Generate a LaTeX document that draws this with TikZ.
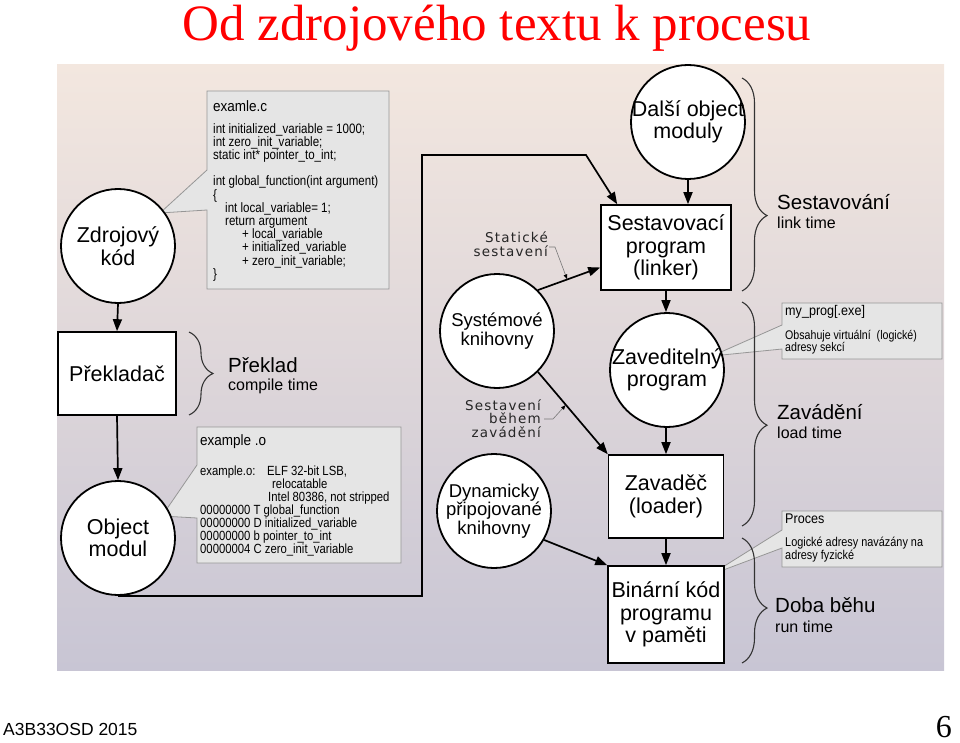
\documentclass[tikz,border=0pt]{standalone}
\usepackage{fontspec}
\setmainfont{Liberation Sans}
\newfontfamily\titlefont{Liberation Serif}
\newfontfamily\dvfont[LetterSpace=9]{DejaVu Sans}
\newfontfamily\narrowfont[FakeStretch=0.85]{Liberation Sans}
\newfontfamily\semifont[FakeStretch=0.9]{Liberation Sans}
\usetikzlibrary{arrows.meta,decorations.pathreplacing,calc}
\definecolor{titlered}{RGB}{255,0,0}
\definecolor{bgtop}{RGB}{243,231,223}
\definecolor{bgmid}{RGB}{221,191,197}
\definecolor{bgbot}{RGB}{200,197,212}
\definecolor{callfill}{RGB}{229,229,229}
\definecolor{callline}{RGB}{150,150,150}
\definecolor{leadgray}{RGB}{120,120,120}
\newcommand{\fsz}[2]{\fontsize{#1}{#2}\selectfont}
\begin{document}
\begin{tikzpicture}[x=1pt,y=-1pt,
  arr/.style={line width=1.7pt,-{Triangle[length=12pt,width=9pt]}},
  circ/.style={circle,draw,line width=1.8pt,fill=white,minimum size=114pt,inner sep=0pt},
  ctext/.style={align=center,font=\fsz{21.5}{22.5},inner sep=0pt},
  stext/.style={align=center,font=\fsz{18.5}{18.5},inner sep=0pt},
  boxn/.style={draw,line width=1.6pt,fill=white,inner sep=0pt,align=center,font=\fsz{21.5}{22.5}},
  callout/.style={fill=callfill,draw=callline,line width=0.8pt},
  curly/.style 2 args={decorate,decoration={brace,amplitude=#1,aspect=#2},line width=1.1pt,draw=black!80},
  bigl/.style={anchor=west,inner sep=0pt,font=\fsz{20.5}{22}},
  smalll/.style={anchor=west,inner sep=0pt,font=\fsz{16}{18}},
  midl/.style={align=right,anchor=east,inner sep=0pt,font=\dvfont\fsz{13.5}{13.5},text=black!85},
  leader/.style={draw=leadgray,line width=0.6pt,-{Latex[length=5pt,width=4pt,color=black]}}
]
\useasboundingbox (0,0) rectangle (960,743);
% title
\node[anchor=base,text=titlered,font=\titlefont\fsz{51}{55},inner sep=0pt] (title) at (497,41) {Od zdrojového textu k procesu};
% background
\shade[top color=bgtop,middle color=bgmid,bottom color=bgbot] (57,65) rectangle (944,670);

% callouts
\draw[callout] (207,91) -- (389,91) -- (389,289) -- (207,289) -- (207,210) -- (160,213) -- (207,170) -- cycle;
\node[anchor=west,inner sep=0pt,font=\semifont\fsz{15}{16}] (codeH) at (213,106) {examle.c};
\node[anchor=north west,inner sep=0pt,align=left,font=\narrowfont\fsz{13.6}{13.2}] (codeB) at (213,123) {int initialized\_variable = 1000;\\
int zero\_init\_variable;\\
static int* pointer\_to\_int;\\[13.2pt]
int global\_function(int argument)\\
\{\\
\hspace*{12pt}int local\_variable= 1;\\
\hspace*{12pt}return argument\\
\hspace*{29pt}+ local\_variable\\
\hspace*{29pt}+ initialized\_variable\\
\hspace*{29pt}+ zero\_init\_variable;\\
\}};

\draw[callout] (197,427) -- (401,427) -- (401,563) -- (197,563) -- (197,518) -- (162,516) -- (197,465) -- cycle;
\node[anchor=west,inner sep=0pt,font=\semifont\fsz{15}{16}] (objH) at (200,442) {example .o};
\node[anchor=north west,inner sep=0pt,align=left,font=\narrowfont\fsz{13.3}{13}] (objB) at (200,466) {\makebox[67pt][l]{example.o:}ELF 32-bit LSB,\\
\hspace*{72pt}relocatable\\
\hspace*{68pt}Intel 80386, not stripped\\
00000000 T global\_function\\
00000000 D initialized\_variable\\
00000000 b pointer\_to\_int\\
00000004 C zero\_init\_variable};

\draw[callout] (782,303) -- (942,303) -- (942,359) -- (782,359) -- (782,349) -- (712,356) -- (782,325) -- cycle;
\node[anchor=west,inner sep=0pt,font=\semifont\fsz{14}{15}] (progH) at (785,312) {my\_prog[.exe]};
\node[anchor=north west,inner sep=0pt,align=left,font=\narrowfont\fsz{12.5}{12}] (progB) at (785,330) {Obsahuje virtuální\ \ (logické)\\adresy sekcí};

\draw[callout] (782,511) -- (942,511) -- (942,567) -- (782,567) -- (782,548) -- (710,575) -- (782,530) -- cycle;
\node[anchor=west,inner sep=0pt,font=\semifont\fsz{14}{15}] (procH) at (785,519) {Proces};
\node[anchor=north west,inner sep=0pt,align=left,font=\narrowfont\fsz{12.8}{12.5}] (procB) at (785,537) {Logické adresy navázány na\\adresy fyzické};

% nodes
\node[circ] (src) at (118,246) {};
\node[ctext] (srcT) at (src) {Zdrojový\\kód};
\node[boxn,minimum width=118pt,minimum height=83pt] (comp) at (117,373.5) {Překladač};
\node[circ] (obj) at (118,538) {};
\node[ctext] (objT) at (obj) {Object\\modul};

\node[circ] (more) at (688,122) {};
\node[ctext] (moreT) at (more) {Další object\\moduly};
\node[boxn,minimum width=130pt,minimum height=85pt] (link) at (666,247.5) {Sestavovací\\program\\(linker)};
\node[circ] (sys) at (497,331) {};
\node[stext] (sysT) at (sys) {Systémové\\knihovny};
\node[circ] (exe) at (667,370) {};
\node[ctext] (exeT) at (exe) {Zaveditelný\\program};
\node[boxn,minimum width=115pt,minimum height=83pt] (load) at (666,496.5) {Zavaděč\\(loader)};
\node[circ] (dyn) at (494,511) {};
\node[stext] (dynT) at (dyn) {Dynamicky\\připojované\\knihovny};
\node[boxn,minimum width=116pt,minimum height=97pt] (bin) at (666,614.5) {Binární kód\\programu\\v paměti};

% connectors
\draw[arr] (src.south) -- (comp.north);
\draw[arr] (comp.south) -- (obj.north);
\coordinate (c1) at (422,155);
\coordinate (c2) at (586,155);
\draw[arr] (obj.south) -- (obj.south -| c1) -- (c1) -- (c2) -- ([xshift=17pt]link.north west);
\draw[arr] (more.south) -- (more.south |- link.north);
\draw[arr] (sys.45) -- ([yshift=-20pt]link.west) coordinate[pos=0.47] (sA);
\draw[arr] (link.south) -- (link.south |- exe.north);
\draw[arr] (sys.-45) -- (load.north west) coordinate[pos=0.4] (sB);
\draw[arr] (exe.south -| load.north) -- (load.north);
\draw[arr] (load.south) -- (bin.north);
\draw[arr] (dyn.-30) -- (bin.north west);

% middle labels
\node[midl] (statT) at (548,244) {Statické\\sestavení};
\draw[leader] (549,247) -- (555,247) -- (sA);
\node[midl] (dynL) at (541,418.5) {Sestavení\\během\\zavádění};
\draw[leader] (544,419) -- (553,419) -- (sB);

% braces
\draw[curly={24pt}{0.5}] (189,332) -- (189,415);
\node[bigl] (prekL) at (228,365) {Překlad};
\node[smalll] (prekS) at (228,386) {compile time};
\draw[curly={25pt}{0.646}] (742,78) -- (742,291);
\node[bigl] (sestL) at (777,202) {Sestavování};
\node[smalll] (sestS) at (777,223) {link time};
\draw[curly={25pt}{0.55}] (742,302) -- (742,526);
\node[bigl] (zavL) at (777,412) {Zavádění};
\node[smalll] (zavS) at (777,433) {load time};
\draw[curly={25pt}{0.56}] (742,538) -- (742,663);
\node[bigl] (dobL) at (775,605) {Doba běhu};
\node[smalll] (dobS) at (775,627) {run time};

% footer
\node[anchor=base west,inner sep=0pt,font=\fsz{17.5}{20}] (foot) at (3,735) {A3B33OSD 2015};
\node[anchor=base east,inner sep=0pt,font=\titlefont\fsz{32}{36}] (pg) at (952,737) {6};
\end{tikzpicture}
\end{document}
